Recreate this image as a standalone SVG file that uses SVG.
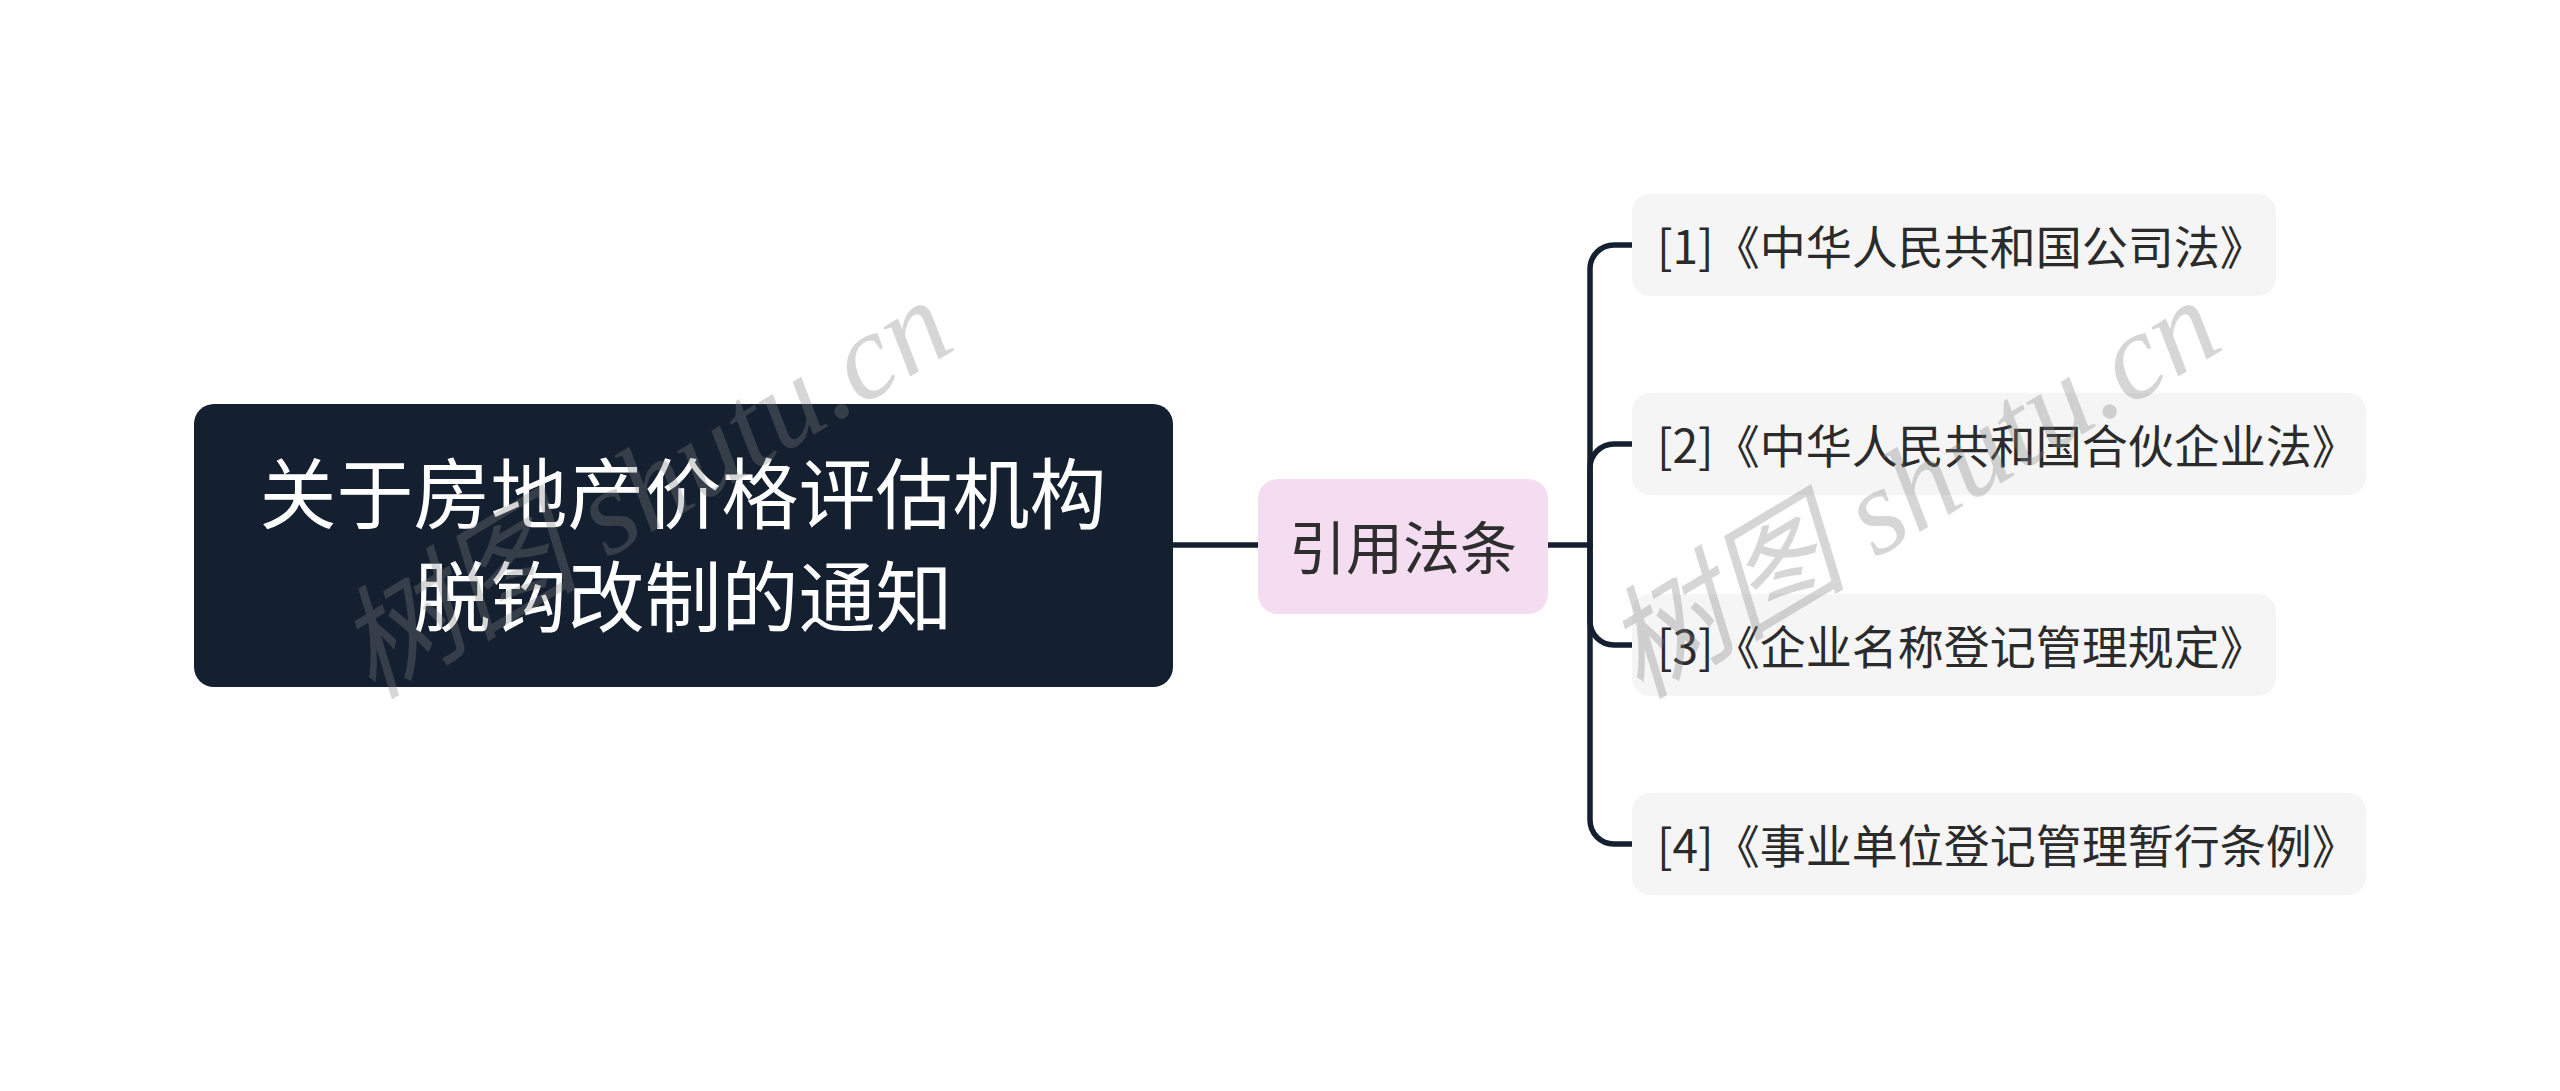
<svg xmlns="http://www.w3.org/2000/svg" width="2560" height="1091" viewBox="0 0 2560 1091">
<style>
.cjk{font-family:"Noto Sans CJK SC","Noto Sans",sans-serif;}
.root-box{fill:#142030;}
.root-text{fill:#ffffff;font-size:77px;}
.mid-box{fill:#f5ddf1;}
.mid-text{fill:#2e2e2e;font-size:57px;}
.leaf-box{fill:#f5f5f5;}
.leaf-text{fill:#2b2b2b;font-size:46px;}
.conn{fill:none;stroke:#142030;stroke-width:5.5;stroke-linecap:round;stroke-linejoin:round;}
.wm{font-family:"Liberation Serif","Noto Sans CJK SC",serif;font-style:italic;font-size:122px;fill:#808080;fill-opacity:0.32;}
</style>
<rect width="2560" height="1091" fill="#ffffff"/>
<g id="connectors">
<path class="conn" d="M1173,545 H1258"/>
<path class="conn" d="M1548,545 H1590"/>
<path class="conn" d="M1590,545 V269 A24,24 0 0 1 1614,245 H1633"/>
<path class="conn" d="M1590,545 V468 A24,24 0 0 1 1614,444 H1633"/>
<path class="conn" d="M1590,545 V621 A24,24 0 0 0 1614,645 H1633"/>
<path class="conn" d="M1590,545 V820 A24,24 0 0 0 1614,844 H1633"/>
</g>
<g id="root">
<rect class="root-box" x="194" y="404" width="979" height="283" rx="20"/>
<text class="cjk root-text" x="683" text-anchor="middle"><tspan x="683" y="523">关于房地产价格评估机构</tspan><tspan x="683" y="626">脱钩改制的通知</tspan></text>
</g>
<g id="mid">
<rect class="mid-box" x="1258" y="479" width="290" height="135" rx="20"/>
<text class="cjk mid-text" x="1403" y="569" text-anchor="middle">引用法条</text>
</g>
<g id="leaf1">
<rect class="leaf-box" x="1632" y="194" width="644" height="102" rx="18"/>
<text class="cjk leaf-text" x="1657" y="264">[1]《中华人民共和国公司法》</text>
</g>
<g id="leaf2">
<rect class="leaf-box" x="1632" y="393" width="734" height="102" rx="18"/>
<text class="cjk leaf-text" x="1657" y="463">[2]《中华人民共和国合伙企业法》</text>
</g>
<g id="leaf3">
<rect class="leaf-box" x="1632" y="594" width="644" height="102" rx="18"/>
<text class="cjk leaf-text" x="1657" y="664">[3]《企业名称登记管理规定》</text>
</g>
<g id="leaf4">
<rect class="leaf-box" x="1632" y="793" width="734" height="102" rx="18"/>
<text class="cjk leaf-text" x="1657" y="863">[4]《事业单位登记管理暂行条例》</text>
</g>
<g id="watermark">
<text class="wm" x="372" y="700" transform="rotate(-31 372 700)">树图 shutu.cn</text>
<text class="wm" x="1640" y="700" transform="rotate(-31 1640 700)">树图 shutu.cn</text>
</g>
</svg>
